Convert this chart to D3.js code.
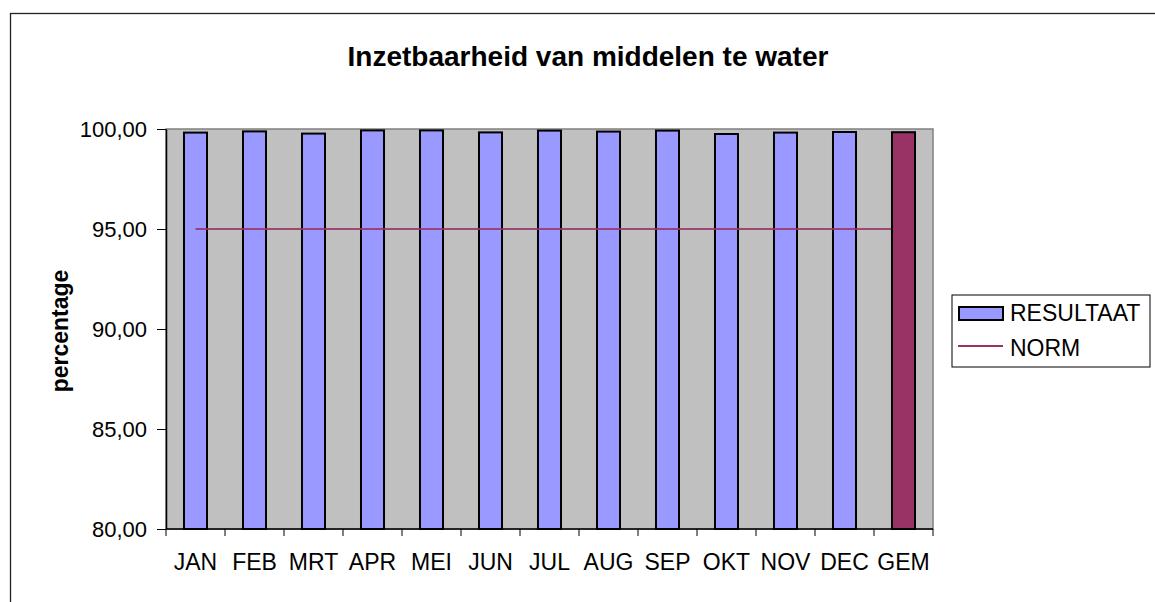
<!DOCTYPE html>
<html>
<head>
<meta charset="utf-8">
<script src="https://cdn.jsdelivr.net/npm/d3@7"></script>
<style>
    body { margin: 0; background: #fff; }
    text { font-family: "Liberation Sans", Arial, sans-serif; }
</style>
</head>
<body>
<script>
// data
var months = ["JAN", "FEB", "MRT", "APR", "MEI", "JUN", "JUL", "AUG", "SEP", "OKT", "NOV", "DEC", "GEM"];
var resultaat = [99.82, 99.88, 99.77, 99.93, 99.93, 99.83, 99.92, 99.87, 99.92, 99.75, 99.82, 99.85, 99.84];
var norm = [95, 95, 95, 95, 95, 95, 95, 95, 95, 95, 95, 95, 95];
var yTicks = [80, 85, 90, 95, 100];

var svg = d3.select("body").append("svg").attr("width", 1155).attr("height", 602);

// outer chart border (runs off the page to the right and bottom)
svg.append("rect").attr("x", 10.5).attr("y", 13.5).attr("width", 1300).attr("height", 800)
    .attr("fill", "none").attr("stroke", "#222").attr("stroke-width", 1.3);

var pLeft = 166, pRight = 933, pTop = 129, pBottom = 529;

var x = d3.scaleBand().domain(months).range([pLeft, pRight]);
var y = d3.scaleLinear().domain([80, 100]).range([pBottom, pTop]);
var barW = x.bandwidth() * 0.39;

// plot area
svg.append("rect").attr("x", pLeft).attr("y", pTop).attr("width", pRight - pLeft).attr("height", pBottom - pTop)
    .attr("fill", "#c0c0c0").attr("stroke", "#808080").attr("stroke-width", 1.5);

function bars(sel, color) {
    sel.append("rect")
        .attr("x", function (d) { return x(d.m) + (x.bandwidth() - barW) / 2; })
        .attr("y", function (d) { return y(d.v); })
        .attr("width", barW)
        .attr("height", function (d) { return y(80) - y(d.v); })
        .attr("fill", color).attr("stroke", "#000").attr("stroke-width", 2);
}

var rows = months.map(function (m, i) { return {m: m, v: resultaat[i]}; });
bars(svg.append("g").selectAll("rect").data(rows.slice(0, 12)).enter(), "#9999ff");

// norm line
var line = d3.line()
    .x(function (d, i) { return x(months[i]) + x.bandwidth() / 2; })
    .y(function (d) { return y(d); });
svg.append("path").datum(norm).attr("d", line)
    .attr("fill", "none").attr("stroke", "#993366").attr("stroke-width", 2).attr("stroke-opacity", 0.85);

bars(svg.append("g").selectAll("rect").data(rows.slice(12)).enter(), "#993366");

// axes
var yAxis = d3.axisLeft(y).tickValues(yTicks).tickSize(9).tickSizeOuter(0)
    .tickFormat(function (d) { return d3.format(".2f")(d).replace(".", ","); });
var gy = svg.append("g").attr("transform", "translate(" + pLeft + ",0)").call(yAxis);
gy.select(".domain").attr("stroke", "#000").attr("stroke-width", 1.5);
gy.selectAll("text").attr("font-size", 22).attr("fill", "#000").attr("x", -19)
    .attr("font-family", "Liberation Sans, Arial, sans-serif");

var gx = svg.append("g").attr("transform", "translate(0," + pBottom + ")");
gx.append("line").attr("x1", pLeft).attr("x2", pRight).attr("stroke", "#000").attr("stroke-width", 1.5);
gx.selectAll(".tk").data(months.concat(["_end"])).enter().append("line")
    .attr("x1", function (d, i) { return pLeft + i * x.step(); })
    .attr("x2", function (d, i) { return pLeft + i * x.step(); })
    .attr("y1", 0).attr("y2", 7).attr("stroke", "#000");
gx.selectAll(".lb").data(months).enter().append("text")
    .attr("x", function (d) { return x(d) + x.bandwidth() / 2; })
    .attr("y", 41).attr("text-anchor", "middle").attr("font-size", 23).text(function (d) { return d; });

// title and axis label
svg.append("text").attr("x", 588).attr("y", 66).attr("text-anchor", "middle")
    .attr("font-size", 28).attr("font-weight", "bold").text("Inzetbaarheid van middelen te water");
svg.append("text").attr("transform", "translate(68,331) rotate(-90)").attr("text-anchor", "middle")
    .attr("font-size", 23).attr("font-weight", "bold").text("percentage");

// legend
var lg = svg.append("g");
lg.append("rect").attr("x", 952).attr("y", 295).attr("width", 198).attr("height", 72)
    .attr("fill", "#fff").attr("stroke", "#000");
lg.append("rect").attr("x", 959).attr("y", 307).attr("width", 44).attr("height", 13)
    .attr("fill", "#9999ff").attr("stroke", "#000").attr("stroke-width", 2);
lg.append("text").attr("x", 1010).attr("y", 321).attr("font-size", 23).text("RESULTAAT");
lg.append("line").attr("x1", 958).attr("x2", 1003).attr("y1", 346).attr("y2", 346)
    .attr("stroke", "#993366").attr("stroke-width", 2);
lg.append("text").attr("x", 1010).attr("y", 356).attr("font-size", 23).text("NORM");
</script>
</body>
</html>
